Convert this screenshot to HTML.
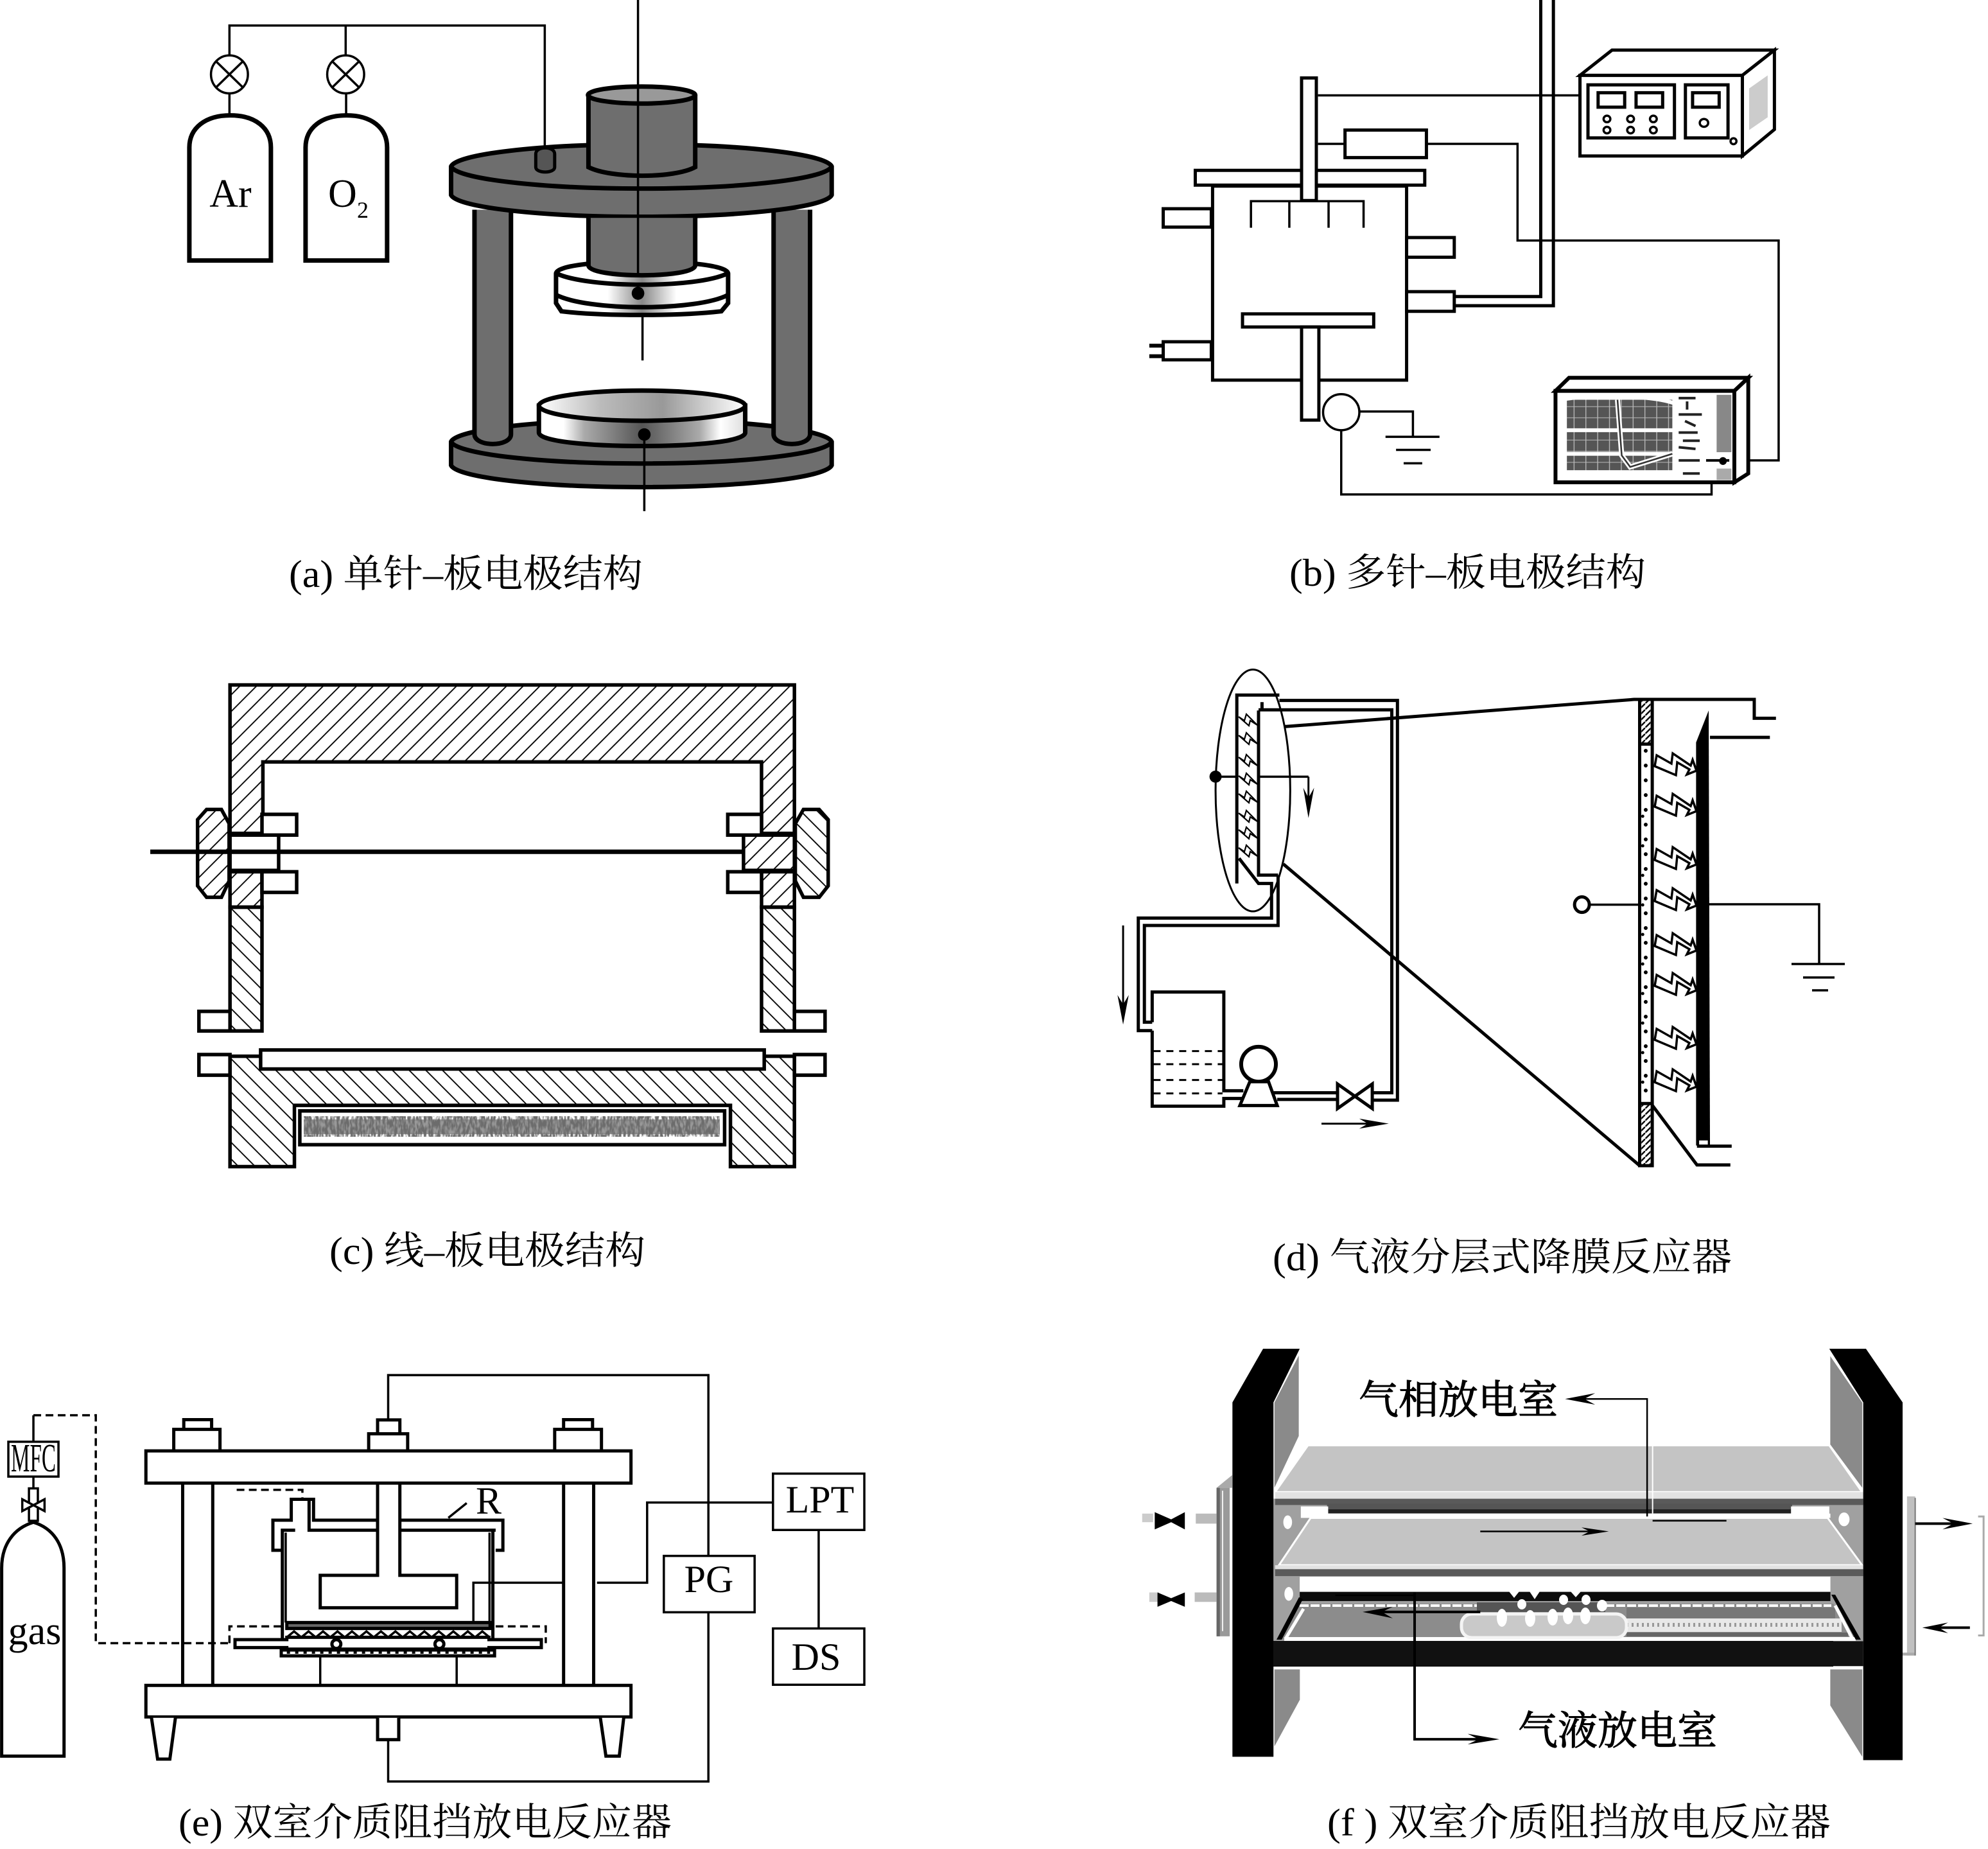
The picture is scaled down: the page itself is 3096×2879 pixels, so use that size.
<!DOCTYPE html>
<html><head><meta charset="utf-8"><style>
html,body{margin:0;padding:0;background:#fff}
svg{display:block}
.n *{vector-effect:non-scaling-stroke}
.n{fill:none;stroke:#000;stroke-width:5;stroke-linejoin:miter}
.w{fill:#fff}
.t{stroke-width:3.5}
.g{fill:#6e6e6e}
.k{fill:#000;stroke:none}
.p{stroke-width:7}
text{font-family:"Liberation Serif","Noto Serif CJK SC",serif;fill:#000;stroke:none}
</style></head><body>
<svg xmlns="http://www.w3.org/2000/svg" width="3096" height="2879" viewBox="0 0 3096 2879">
<defs>
<pattern id="hf" patternUnits="userSpaceOnUse" width="37" height="51"><path d="M0,51L37,0M-9,12L9,-12M28,63L46,39" stroke="#000" stroke-width="3" fill="none"/></pattern>
<pattern id="hb" patternUnits="userSpaceOnUse" width="37" height="51"><path d="M0,0L37,51M-9,39L9,63M28,-12L46,12" stroke="#000" stroke-width="3" fill="none"/></pattern>
<pattern id="hd" patternUnits="userSpaceOnUse" width="14" height="18"><path d="M0,18L14,0" stroke="#000" stroke-width="4" fill="none"/></pattern>
<pattern id="plaid" patternUnits="userSpaceOnUse" width="28" height="34"><rect width="28" height="34" fill="#555"/><path d="M14,0V34M0,17H28" stroke="#bbb" stroke-width="2" fill="none"/></pattern>
<filter id="nz" x="0" y="0" width="100%" height="100%"><feTurbulence type="fractalNoise" baseFrequency=".28 .09" numOctaves="2" seed="4"/><feColorMatrix type="matrix" values="0 0 0 0 .15  0 0 0 0 .15  0 0 0 0 .15  3.5 0 0 0 -1.1"/></filter>
<linearGradient id="dg"><stop offset="0" stop-color="#fff"/><stop offset=".12" stop-color="#fff"/><stop offset=".22" stop-color="#aaa"/><stop offset=".5" stop-color="#555"/><stop offset=".78" stop-color="#aaa"/><stop offset=".88" stop-color="#fff"/><stop offset="1" stop-color="#ddd"/></linearGradient>
<linearGradient id="dg2"><stop offset="0" stop-color="#fff"/><stop offset=".3" stop-color="#bbb"/><stop offset=".6" stop-color="#999"/><stop offset="1" stop-color="#fff"/></linearGradient>
<linearGradient id="dw"><stop offset="0" stop-color="#fff"/><stop offset=".3" stop-color="#fff"/><stop offset=".5" stop-color="#888"/><stop offset=".7" stop-color="#fff"/><stop offset="1" stop-color="#fff"/></linearGradient>
</defs>

<!-- (a) -->
<g class="n" transform="translate(250,0) scale(.7015,.5102)">
<path class="t" d="M153,170V78H853V445M411,78V170M153,285V347M412,285V347"/>
<ellipse class="t" cx="153" cy="227" rx="41" ry="58"/><ellipse class="t" cx="411" cy="227" rx="41" ry="58"/>
<path class="t" d="M123,187L183,267M183,187L123,267M381,187L441,267M441,187L381,267"/>
<path class="p" d="M64,795V450C64,390 100,352 155,352C210,352 245,390 245,450V795Z"/>
<path class="p" d="M322,795V450C322,390 358,352 413,352C468,352 503,390 503,450V795Z"/>
<path class="g p" d="M645,1348A423,70 0 0 1 1490,1348V1420A423,70 0 0 1 645,1420Z"/>
<path class="p" d="M645,1348A423,70 0 0 0 1490,1348"/>
<path class="g p" d="M697,640V1325C697,1365 778,1365 778,1325V640"/>
<path class="g p" d="M1361,640V1325C1361,1365 1442,1365 1442,1325V640"/>
<path fill="url(#dg)" class="p" d="M840,1238V1320C840,1375 1298,1375 1298,1320V1238Z"/>
<ellipse fill="url(#dg2)" class="p" cx="1069" cy="1238" rx="229" ry="46"/>
<ellipse class="k" cx="1074" cy="1326" rx="14" ry="19"/>
<path class="t" d="M1074,1340V1560M1070,960V1100"/>
<path class="g p" d="M645,508A423,71 0 0 1 1490,508V595A423,70 0 0 1 645,595Z"/>
<path class="p" d="M645,508A423,71 0 0 0 1490,508"/>
<path fill="url(#dw)" class="p" d="M878,835V925L890,950C980,965 1150,965 1245,950L1260,925V835C1260,785 878,785 878,835Z"/>
<path class="p" d="M878,900C950,950 1190,950 1260,900"/>
<path class="p" d="M880,835C950,880 1190,880 1258,835"/>
<path fill="#6e6e6e" class="p" d="M950,665V810C950,850 1187,850 1187,810V665"/>
<ellipse class="k" cx="1060" cy="895" rx="14" ry="20"/>
<path class="g p" d="M950,290V510C1000,545 1140,545 1187,510V290"/>
<ellipse fill="#999" class="p" cx="1068" cy="290" rx="119" ry="26"/>
<path fill="#555" style="stroke-width:5" d="M833,470C833,445 875,445 875,470V510C875,530 833,530 833,510Z"/>
<path class="t" d="M1060,0V835"/>
</g>
<text x="359" y="322" font-size="62" text-anchor="middle">Ar</text>
<text x="511" y="322" font-size="62">O</text><text x="556" y="339" font-size="36">2</text>

<!-- (b) -->
<g class="n" transform="translate(1780,0) scale(.6569,.5102)">
<path class="w" d="M48,637H162V693H48ZM48,1043H162V1098H48Z"/>
<path style="stroke-width:6" d="M15,1055H48M15,1087H48"/>
<rect class="w" x="165" y="568" width="460" height="592"/>
<rect class="w" x="124" y="520" width="544" height="45"/>
<rect class="w" x="376" y="238" width="35" height="374"/>
<path class="t" d="M256,695V614H523V695M347,614V695M440,614V695"/>
<rect class="w" x="625" y="725" width="113" height="60"/>
<rect class="w" x="625" y="890" width="113" height="60"/>
<rect class="w" x="236" y="958" width="311" height="40"/>
<rect class="w" x="376" y="998" width="41" height="284"/>
<rect class="w" x="479" y="397" width="193" height="84"/>
<path class="t" d="M415,439H479M672,439H888V734H1507V1405H1390M415,291H1035"/>
<path d="M943,0V905H738M973,0V933H738"/>
<path class="w" d="M1036,230L1112,153H1497L1421,230Z"/>
<path class="w" d="M1421,230L1497,153V395L1421,476Z"/>
<path fill="#ccc" stroke="none" d="M1437,270L1481,230V358L1437,397Z"/>
<rect class="w" x="1036" y="230" width="385" height="246"/>
<rect x="1055" y="259" width="205" height="162"/><rect x="1286" y="259" width="101" height="162"/>
<rect x="1079" y="283" width="63" height="44"/><rect x="1169" y="283" width="63" height="44"/><rect x="1303" y="283" width="63" height="44"/>
<g style="stroke-width:3.5"><ellipse cx="1100" cy="363" rx="8" ry="10"/><ellipse cx="1156" cy="363" rx="8" ry="10"/><ellipse cx="1210" cy="363" rx="8" ry="10"/><ellipse cx="1100" cy="397" rx="8" ry="10"/><ellipse cx="1156" cy="397" rx="8" ry="10"/><ellipse cx="1210" cy="397" rx="8" ry="10"/><ellipse cx="1330" cy="375" rx="10" ry="12"/><ellipse cx="1400" cy="431" rx="7" ry="9"/></g>
<ellipse class="w t" cx="470" cy="1258" rx="43" ry="55"/>
<path class="t" d="M513,1256H640V1333M575,1333H703M600,1373H682M618,1414H662M470,1313V1509H1348V1405"/>
<path class="w" style="stroke-width:6" d="M978,1193L1010,1153H1435L1402,1193Z"/>
<path class="w" style="stroke-width:6" d="M1402,1193L1435,1153V1445L1402,1472Z"/>
<rect class="w" style="stroke-width:6" x="978" y="1193" width="424" height="279"/>
<rect fill="url(#plaid)" stroke="none" x="1005" y="1220" width="250" height="215"/>
<path stroke="#fff" style="stroke-width:6" d="M1000,1313H1258M1000,1385H1258M1000,1218C1060,1205 1200,1205 1258,1230"/>
<path stroke="#fff" style="stroke-width:8" d="M1125,1220L1135,1390L1155,1425L1255,1385"/>
<path stroke="#333" style="stroke-width:2.5" d="M1125,1220L1135,1390L1155,1425L1255,1385"/>
<path stroke="#222" style="stroke-width:4" d="M1270,1215H1310M1290,1225V1250M1270,1265H1325M1285,1285L1310,1300M1270,1320H1315M1280,1345H1320M1270,1365L1310,1370M1270,1405H1320M1280,1445H1320"/>
<rect fill="#888" stroke="none" x="1360" y="1205" width="35" height="175"/>
<rect fill="#aaa" stroke="none" x="1360" y="1430" width="35" height="35"/>
<path stroke-width="4" d="M1335,1405H1390"/>
<ellipse class="k" cx="1375" cy="1407" rx="9" ry="12"/>
</g>

<!-- (c) -->
<g class="n" transform="translate(220,1040) scale(.7015,.5102)" style="stroke-width:5.5">
<path fill="url(#hf)" d="M197,52H1450V505H1377V287H270V505H197Z"/>
<path fill="url(#hf)" d="M125,463L145,432H178L195,475V650L178,700H145L125,665Z"/>
<path fill="url(#hb)" d="M1525,463L1505,432H1470L1452,475V650L1470,700H1505L1525,665Z"/>
<rect fill="url(#hf)" x="197" y="622" width="71" height="108"/>
<rect fill="url(#hf)" x="1377" y="622" width="73" height="108"/>
<rect fill="url(#hb)" x="197" y="730" width="71" height="378"/>
<rect fill="url(#hb)" x="1377" y="730" width="73" height="378"/>
<path class="w" d="M197,510H305V618H197Z"/>
<path fill="url(#hf)" d="M1337,510H1450V618H1337Z"/>
<rect class="w" x="268" y="447" width="77" height="63"/><rect class="w" x="268" y="622" width="77" height="63"/>
<rect class="w" x="1302" y="447" width="75" height="63"/><rect class="w" x="1302" y="622" width="75" height="63"/>
<rect class="w" x="128" y="1048" width="69" height="60"/><rect class="w" x="1450" y="1048" width="68" height="60"/>
<rect class="w" x="128" y="1180" width="69" height="63"/><rect class="w" x="1450" y="1180" width="68" height="63"/>
<path fill="url(#hb)" d="M197,1185H1450V1522H1308V1335H340V1522H197Z"/>
<rect class="w" x="265" y="1166" width="1118" height="58"/>
<rect class="w" x="352" y="1352" width="943" height="103"/>
<path style="stroke-width:7" d="M20,561H1337"/>
</g>
<rect x="473" y="1743" width="648" height="23" fill="#999"/>
<rect x="473" y="1738" width="648" height="32" filter="url(#nz)"/>

<!-- (d) -->
<g class="n" transform="translate(1720,1020) scale(.676,.523)" style="stroke-width:5">
<ellipse style="stroke-width:3" cx="342" cy="403" rx="86" ry="360"/>
<path d="M305,680V119H403M363,140V165M355,165V655H400"/>
<path d="M403,135H675V1325H617M355,163H662V1303H617"/>
<path d="M415,213L1220,132H1497V188H1547"/>
<path d="M412,622L1233,1520"/>
<path d="M310,605L355,680H385V783H78V1118H110M400,655V805H92V1093H110"/>
<path d="M110,1118V1343H275V1320H320M110,1093V1003H275V1297H320"/>
<path stroke-dasharray="11,9" style="stroke-width:3" d="M113,1179H272M113,1218H272M113,1265H272M113,1305H272"/>
<ellipse class="w" style="stroke-width:6" cx="355" cy="1218" rx="40" ry="52"/>
<path class="w" d="M335,1270L312,1341H398L378,1270Z"/>
<path d="M390,1303H537M398,1323H537"/>
<path class="w" d="M537,1277L617,1350V1277L537,1350Z"/>
<path style="stroke-width:3" d="M500,1395H640M43,805V1040M470,362V430"/>
<path class="k" d="M655,1395L587,1380L607,1395L587,1410ZM43,1100L30,1012L43,1040L56,1012ZM470,485L458,395L470,425L483,395Z"/>
<ellipse class="k" cx="256" cy="362" rx="14" ry="18"/>
<path style="stroke-width:3.5" d="M256,362H305M355,362H470"/>
<rect class="w" x="1233" y="132" width="29" height="1388"/>
<rect fill="url(#hd)" stroke="none" x="1237" y="136" width="21" height="128"/>
<rect fill="url(#hd)" stroke="none" x="1237" y="1336" width="21" height="180"/>
<path d="M1235,265H1260M1235,1335H1260"/>
<path stroke-dasharray="0,23" stroke-linecap="round" style="stroke-width:6" d="M1247,285V1320"/>
<path stroke-dasharray="0,46" stroke-linecap="round" style="stroke-width:5" d="M1240,480V1320"/>
<path class="k" d="M1363,260L1392,165L1395,1460H1363Z"/>
<rect fill="#fff" stroke="none" x="1370" y="1445" width="20" height="13"/>
<path d="M1395,245H1533M1365,1462H1445M1262,1340L1365,1518H1442"/>
<ellipse class="w" cx="1100" cy="743" rx="17" ry="23"/>
<path style="stroke-width:3.5" d="M1117,743H1233"/>
</g>
<g class="n" style="stroke-width:3.5">
<path d="M2646,1408H2833V1501M2790,1501H2873M2808,1522H2857M2822,1542H2847"/>
<!-- big discharge bolts -->
<g class="w" style="stroke-width:3.5">
<path id="bb" d="M2580,1176L2603,1189L2605,1173L2633,1192L2636,1183L2642,1200L2627,1206L2631,1198L2612,1187L2610,1207L2577,1193Z"/>
<use href="#bb" y="63"/><use href="#bb" y="146"/><use href="#bb" y="210"/><use href="#bb" y="280"/><use href="#bb" y="342"/><use href="#bb" y="426"/><use href="#bb" y="492"/>
</g>
<!-- small discharge bolts -->
<g class="w" style="stroke-width:2.2">
<path id="sb" d="M1929,1116L1938,1122L1941,1112L1958,1129L1947,1122L1945,1130Z"/>
<use href="#sb" y="29"/><use href="#sb" y="63"/><use href="#sb" y="92"/><use href="#sb" y="120"/><use href="#sb" y="150"/><use href="#sb" y="176"/><use href="#sb" y="204"/>
</g>
</g>

<!-- (e) -->
<g class="n" transform="translate(0,2120) scale(.8673,.4592)">
<path d="M3,1338H115V700C115,620 95,565 60,545C25,565 3,620 3,700Z"/>
<rect class="w t" x="52" y="430" width="16" height="110"/>
<path class="w t" d="M40,467L80,507V467L40,507Z"/>
<rect class="t" x="15" y="272" width="90" height="118"/>
<path class="t" d="M60,390V430M60,272V182"/>
<path class="t" stroke-dasharray="12,7" d="M60,182H172V955H415"/>
<path class="t" stroke-dasharray="12,7" d="M425,435H543V467M412,955V898H505M890,898H980V955"/>
<rect class="w" x="262" y="303" width="871" height="109"/>
<rect class="w" x="262" y="1098" width="871" height="107"/>
<path d="M312,300V230H395V300M330,230V197H380V230M996,300V230H1080V300M1012,230V197H1064V230M662,300V245H732V300M678,245V198H718V245"/>
<path d="M328,412V1098M382,412V1098M1012,412V1098M1066,412V1098M678,412V725H575V835H820V725H718V412"/>
<path d="M678,538H563V467H523V538H490V640H507M718,538H903V640H890M678,572H555V467M718,572H890M530,572H507V940M885,572V940"/>
<path class="t" d="M513,580V885M879,580V885"/>
<rect fill="#666" x="515" y="885" width="365" height="20"/>
<path class="t" d="M515,935L528,915L541,935L554,915L567,935L580,915L593,935L606,915L619,935L632,915L645,935L658,915L671,935L684,915L697,935L710,915L723,935L736,915L749,935L762,915L775,935L788,915L801,935L814,915L827,935L840,915L853,935L866,915L879,935"/>
<path class="w" d="M422,943H515V935H878V943H972V970H878V975H515V970H422Z"/>
<ellipse class="w" cx="604" cy="958" rx="8" ry="15"/><ellipse class="w" cx="789" cy="958" rx="8" ry="15"/>
<rect class="w" x="505" y="978" width="383" height="20"/>
<path class="t" stroke-dasharray="5,8" d="M515,987H880"/>
<path class="t" d="M805,530L838,480M575,998V1098M820,998V1098"/>
<path class="w" d="M272,1208L283,1348H305L315,1208M1078,1208L1088,1338H1112L1120,1208M678,1208V1282H716V1208"/>
<path class="t" d="M697,198V46H1272V657M1272,852V1424H697V1282"/>
<rect class="t" x="1192" y="659" width="163" height="191" fill="#fff"/>
<rect class="t" x="1388" y="380" width="164" height="191" fill="#fff"/>
<rect class="t" x="1388" y="905" width="164" height="191" fill="#fff"/>
<path class="t" d="M1470,571V905M1388,478H1162V750H1072M1012,750H850V885"/>
</g>
<text x="54" y="2560" font-size="62" text-anchor="middle">gas</text>
<text x="17" y="2291" font-size="62" textLength="70" lengthAdjust="spacingAndGlyphs">MFC</text>
<text x="741" y="2357" font-size="60">R</text>
<text x="1104" y="2479" font-size="60" text-anchor="middle">PG</text>
<text x="1277" y="2355" font-size="60" text-anchor="middle">LPT</text>
<text x="1271" y="2600" font-size="60" text-anchor="middle">DS</text>

<!-- (f) -->
<g class="n" transform="translate(1760,2080) scale(.852,.4464)" style="stroke-width:3">
<rect fill="#a0a0a0" stroke="none" x="262" y="568" width="1078" height="497"/>
<path fill="#8a8a8a" stroke="#fff" d="M262,232L310,55V350L262,545Z"/>
<path fill="#8a8a8a" stroke="#fff" d="M1278,60L1340,232V540L1278,380Z"/>
<path fill="#8a8a8a" stroke="#fff" d="M262,1160H312V1270L262,1445Z"/>
<path fill="#8a8a8a" stroke="#fff" d="M1278,1160H1340V1480L1278,1290Z"/>
<rect fill="#5a5a5a" stroke="none" x="265" y="568" width="1075" height="22"/>
<rect fill="#555" stroke="none" x="360" y="585" width="850" height="33"/>
<rect fill="#222" stroke="none" x="362" y="605" width="848" height="14"/>
<rect fill="#fff" stroke="none" x="312" y="595" width="50" height="40"/><rect fill="#fff" stroke="none" x="1208" y="595" width="70" height="40"/>
<path fill="#c4c4c4" stroke="#fff" d="M325,382H1278L1338,545H265Z"/>
<rect fill="#e2e2e2" stroke="none" x="265" y="545" width="1075" height="22"/>
<rect fill="#fff" stroke="none" x="330" y="620" width="950" height="15"/>
<path fill="#c4c4c4" stroke="#fff" d="M330,635H1275L1338,800H272Z"/>
<rect fill="#e2e2e2" stroke="none" x="265" y="800" width="1075" height="14"/>
<rect fill="#5a5a5a" stroke="none" x="265" y="814" width="1075" height="24"/>
<rect fill="#fff" stroke="none" x="310" y="840" width="970" height="53"/>
<rect fill="#0c0c0c" stroke="none" x="310" y="893" width="970" height="32"/>
<rect fill="#111" stroke="none" x="262" y="1065" width="1078" height="87"/>
<path class="k" d="M243,45H310L262,232V1468H187V232Z"/>
<path class="k" d="M1278,45H1345L1412,232V1480H1340V232Z"/>
<ellipse fill="#fff" stroke="none" cx="288" cy="650" rx="8" ry="24"/><ellipse fill="#fff" stroke="none" cx="1305" cy="640" rx="10" ry="24"/><ellipse fill="#fff" stroke="none" cx="290" cy="900" rx="8" ry="24"/>
<!-- flanges -->
<rect fill="#9a9a9a" stroke="none" x="158" y="530" width="24" height="518"/><rect fill="#666" stroke="none" x="158" y="530" width="6" height="518"/><rect fill="#fff" stroke="none" x="168" y="540" width="2" height="490"/><path fill="#aaa" stroke="none" d="M158,530L187,485V530Z"/>
<rect fill="#c0c0c0" stroke="none" x="1420" y="560" width="15" height="555"/>
<rect fill="#aaa" stroke="none" x="1412" y="1105" width="23" height="10"/>
<path stroke="#777" style="stroke-width:2" d="M1435,565V1115"/>
<!-- stubs + valves -->
<rect fill="#bbb" stroke="none" x="120" y="620" width="38" height="35"/><rect fill="#bbb" stroke="none" x="118" y="895" width="40" height="33"/><rect fill="#ccc" stroke="none" x="35" y="895" width="18" height="33"/><rect fill="#ccc" stroke="none" x="22" y="620" width="20" height="30"/>
<path class="k" d="M45,615L75,640L100,615V675L75,650L45,675ZM50,895L75,915L100,895V945L75,925L50,945Z"/>
<path stroke="#fff" style="stroke-width:2" d="M955,380V620"/>
</g>
<!-- lower tray in page coordinates -->
<g class="n" style="stroke-width:3">
<path fill="#8c8c8c" stroke="none" d="M2026,2497H2855L2894,2553H1996Z"/>
<path stroke="#fff" stroke-width="4" stroke-dasharray="14,3" d="M2024,2500H2852"/>
<rect fill="#777" stroke="none" x="2533" y="2503" width="325" height="18"/>
<rect fill="#e8e8e8" stroke="none" x="2533" y="2520" width="335" height="21"/>
<path stroke="#999" stroke-width="6" stroke-dasharray="3,5" d="M2533,2530H2868"/>
<rect fill="#666" stroke="none" x="2533" y="2542" width="345" height="6"/>
<path stroke="#fff" stroke-width="6" d="M2000,2552H2890"/>
<path stroke="#fff" stroke-width="5" d="M2030,2505L2003,2550M2858,2500L2884,2550"/>
<rect x="2276" y="2513" width="257" height="37" rx="16" fill="#c9c9c9" stroke="#f4f4f4" stroke-width="5"/>
<path fill="#555" stroke="none" d="M2300,2495H2500V2510H2300Z"/>
<g fill="#fff" stroke="none"><ellipse cx="2339" cy="2519" rx="8" ry="14"/><ellipse cx="2383" cy="2520" rx="8" ry="13"/><ellipse cx="2418" cy="2518" rx="8" ry="13"/><ellipse cx="2442" cy="2516" rx="8" ry="13"/><ellipse cx="2469" cy="2516" rx="8" ry="13"/>
<ellipse cx="2370" cy="2498" rx="7" ry="8"/><ellipse cx="2435" cy="2491" rx="7" ry="8"/><ellipse cx="2470" cy="2491" rx="7" ry="8"/><ellipse cx="2495" cy="2500" rx="8" ry="9"/>
<path d="M2350,2478L2358,2488L2366,2478ZM2382,2478L2390,2490L2398,2478ZM2446,2478L2454,2487L2462,2478Z"/></g>
<path fill="#000" stroke="none" d="M2023,2487L2029,2490L1996,2553L1988,2553ZM2852,2483L2858,2483L2898,2553L2890,2553Z"/>
</g>
<rect x="1983" y="2555" width="872" height="40" fill="#111"/>
<g class="n" transform="translate(1760,2080) scale(.852,.4464)" style="stroke-width:3">
<path style="stroke-width:2.5" d="M945,380V220H820M945,380V630M955,645H1090M640,682H840M375,905H520"/>
<path style="stroke-width:4" d="M520,895V1407H640M640,963H460M1435,655H1510M1535,1018H1475"/>
<path class="k" d="M795,220L850,200L830,220L850,240ZM875,682L825,668L840,682L825,697ZM425,963L480,945L460,963L480,985ZM675,1407L617,1388L637,1407L617,1425ZM1540,655L1485,635L1505,655L1485,675ZM1448,1018L1495,1000L1478,1018L1495,1037Z"/>
<path stroke="#aaa" style="stroke-width:3" d="M1550,630H1560V1045H1550"/>
</g>
<text x="2116" y="2201" font-size="62" style="stroke:#000;stroke-width:1.2">气相放电室</text>
<text x="2364" y="2716" font-size="62" style="stroke:#000;stroke-width:1.2">气液放电室</text>

<!-- captions -->
<text x="450" y="914" font-size="60" textLength="551" lengthAdjust="spacingAndGlyphs">(a) 单针–板电极结构</text>
<text x="2008" y="912" font-size="60" textLength="555" lengthAdjust="spacingAndGlyphs">(b) 多针–板电极结构</text>
<text x="513" y="1968" font-size="60" textLength="492" lengthAdjust="spacingAndGlyphs">(c) 线–板电极结构</text>
<text x="1982" y="1978" font-size="60" textLength="715" lengthAdjust="spacingAndGlyphs">(d) 气液分层式降膜反应器</text>
<text x="278" y="2858" font-size="60" textLength="768" lengthAdjust="spacingAndGlyphs">(e) 双室介质阻挡放电反应器</text>
<text x="2067" y="2858" font-size="60" textLength="784" lengthAdjust="spacingAndGlyphs">(f ) 双室介质阻挡放电反应器</text>
</svg>
</body></html>
